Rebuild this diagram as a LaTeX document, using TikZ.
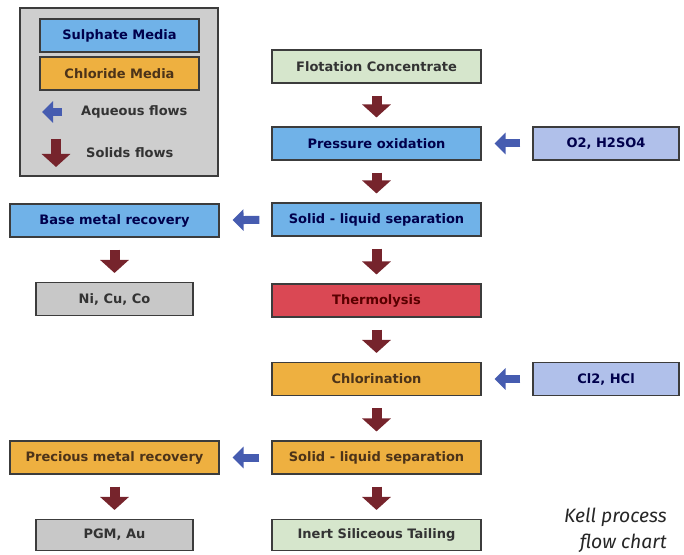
\documentclass[tikz,border=0pt]{standalone}
\usepackage{fontspec}
\setmainfont{DejaVu Sans}
\newfontfamily\notefont{Fira Sans}
\usetikzlibrary{arrows.meta}

\definecolor{sulphate}{RGB}{112,178,232}
\definecolor{chloride}{RGB}{238,176,64}
\definecolor{thermo}{RGB}{218,72,84}
\definecolor{feed}{RGB}{214,230,204}
\definecolor{product}{RGB}{200,200,200}
\definecolor{reagent}{RGB}{176,192,234}
\definecolor{legendbg}{RGB}{206,206,206}
\definecolor{solidred}{RGB}{118,36,44}
\definecolor{aqblue}{RGB}{70,92,176}
\definecolor{edge}{RGB}{60,60,60}

\begin{document}
\begin{tikzpicture}[
    box/.style={rectangle, draw=edge, line width=0.6pt, minimum width=4.18cm,
                minimum height=0.66cm, align=center, inner sep=1pt,
                font=\fontsize{7.4}{9}\selectfont\bfseries},
    sulph/.style={box, fill=sulphate, text=blue!30!black},
    chlor/.style={box, fill=chloride, text=brown!40!black},
    small/.style={box, minimum width=3.14cm},
    reag/.style={box, minimum width=2.92cm, fill=reagent, text=blue!30!black},
    solidarr/.style={-{Triangle[width=0.56cm, length=0.26cm]}, line width=0.2cm,
                     draw=solidred, shorten <=0.24cm, shorten >=0.18cm},
    aqarr/.style={-{Triangle[width=0.42cm, length=0.22cm]}, line width=0.16cm,
                  draw=aqblue, shorten <=0.24cm, shorten >=0.26cm},
]
\useasboundingbox (0,0) rectangle (13.68,11.08);

% Legend
\node[rectangle, draw=edge, line width=0.8pt, fill=legendbg,
      minimum width=3.96cm, minimum height=3.36cm] (legend) at (2.38, 9.24) {};
\node[sulph, minimum width=3.18cm] (lsulph) at (2.39, 10.37) {Sulphate Media};
\node[chlor, minimum width=3.18cm] (lchlor) at (2.39, 9.61) {Chloride Media};
\coordinate (laqa) at (1.24, 8.84);
\coordinate (laqb) at (0.84, 8.84);
\draw[aqarr, shorten <=0pt, shorten >=0pt] (laqa) -- (laqb);
\node[font=\fontsize{7.4}{9}\selectfont\bfseries, text=black!80, anchor=west] (laq) at (1.50, 8.84) {Aqueous flows};
\coordinate (lsola) at (1.12, 8.30);
\coordinate (lsolb) at (1.12, 7.74);
\draw[solidarr, shorten <=0pt, shorten >=0pt] (lsola) -- (lsolb);
\node[font=\fontsize{7.4}{9}\selectfont\bfseries, text=black!80, anchor=west] (lsol) at (1.60, 8.02) {Solids flows};

% Main column
\node[box, fill=feed, text=black!80] (flot)  at (7.53, 9.75) {Flotation Concentrate};
\node[sulph]                         (pox)   at (7.53, 8.21) {Pressure oxidation};
\node[sulph]                         (sls1)  at (7.53, 6.69) {Solid - liquid separation};
\node[box, fill=thermo, text=red!35!black] (therm) at (7.53, 5.07) {Thermolysis};
\node[chlor]                         (chlo)  at (7.53, 3.50) {Chlorination};
\node[chlor]                         (sls2)  at (7.53, 1.93) {Solid - liquid separation};
\node[box, fill=feed, text=black!80, minimum height=0.62cm] (tail) at (7.53, 0.38) {Inert Siliceous Tailing};
\draw[solidarr] (flot)  -- (pox);
\draw[solidarr] (pox)   -- (sls1);
\draw[solidarr] (sls1)  -- (therm);
\draw[solidarr] (therm) -- (chlo);
\draw[solidarr] (chlo)  -- (sls2);
\draw[solidarr] (sls2)  -- (tail);

% Reagents (right column)
\node[reag] (o2)  at (12.12, 8.21) {O2, H2SO4};
\node[reag] (cl2) at (12.12, 3.50) {Cl2, HCl};
\draw[aqarr] (o2)  -- (pox);
\draw[aqarr] (cl2) -- (chlo);

% Recovery (left column)
\node[sulph] (bmr) at (2.29, 6.67) {Base metal recovery};
\node[small, fill=product, text=black!80] (nicu) at (2.29, 5.10) {Ni, Cu, Co};
\node[chlor] (pmr) at (2.29, 1.93) {Precious metal recovery};
\node[small, fill=product, text=black!80, minimum height=0.62cm] (pgm) at (2.29, 0.38) {PGM, Au};
\draw[aqarr] (sls1) -- (bmr);
\draw[aqarr] (sls2) -- (pmr);
\draw[solidarr] (bmr) -- (nicu);
\draw[solidarr] (pmr) -- (pgm);

% Caption
\node[font=\notefont\itshape\fontsize{11}{15}\selectfont, text=black!85, align=right,
      anchor=east, inner sep=0pt] (title) at (13.34, 0.48) {Kell process\\flow chart};

\end{tikzpicture}
\end{document}
